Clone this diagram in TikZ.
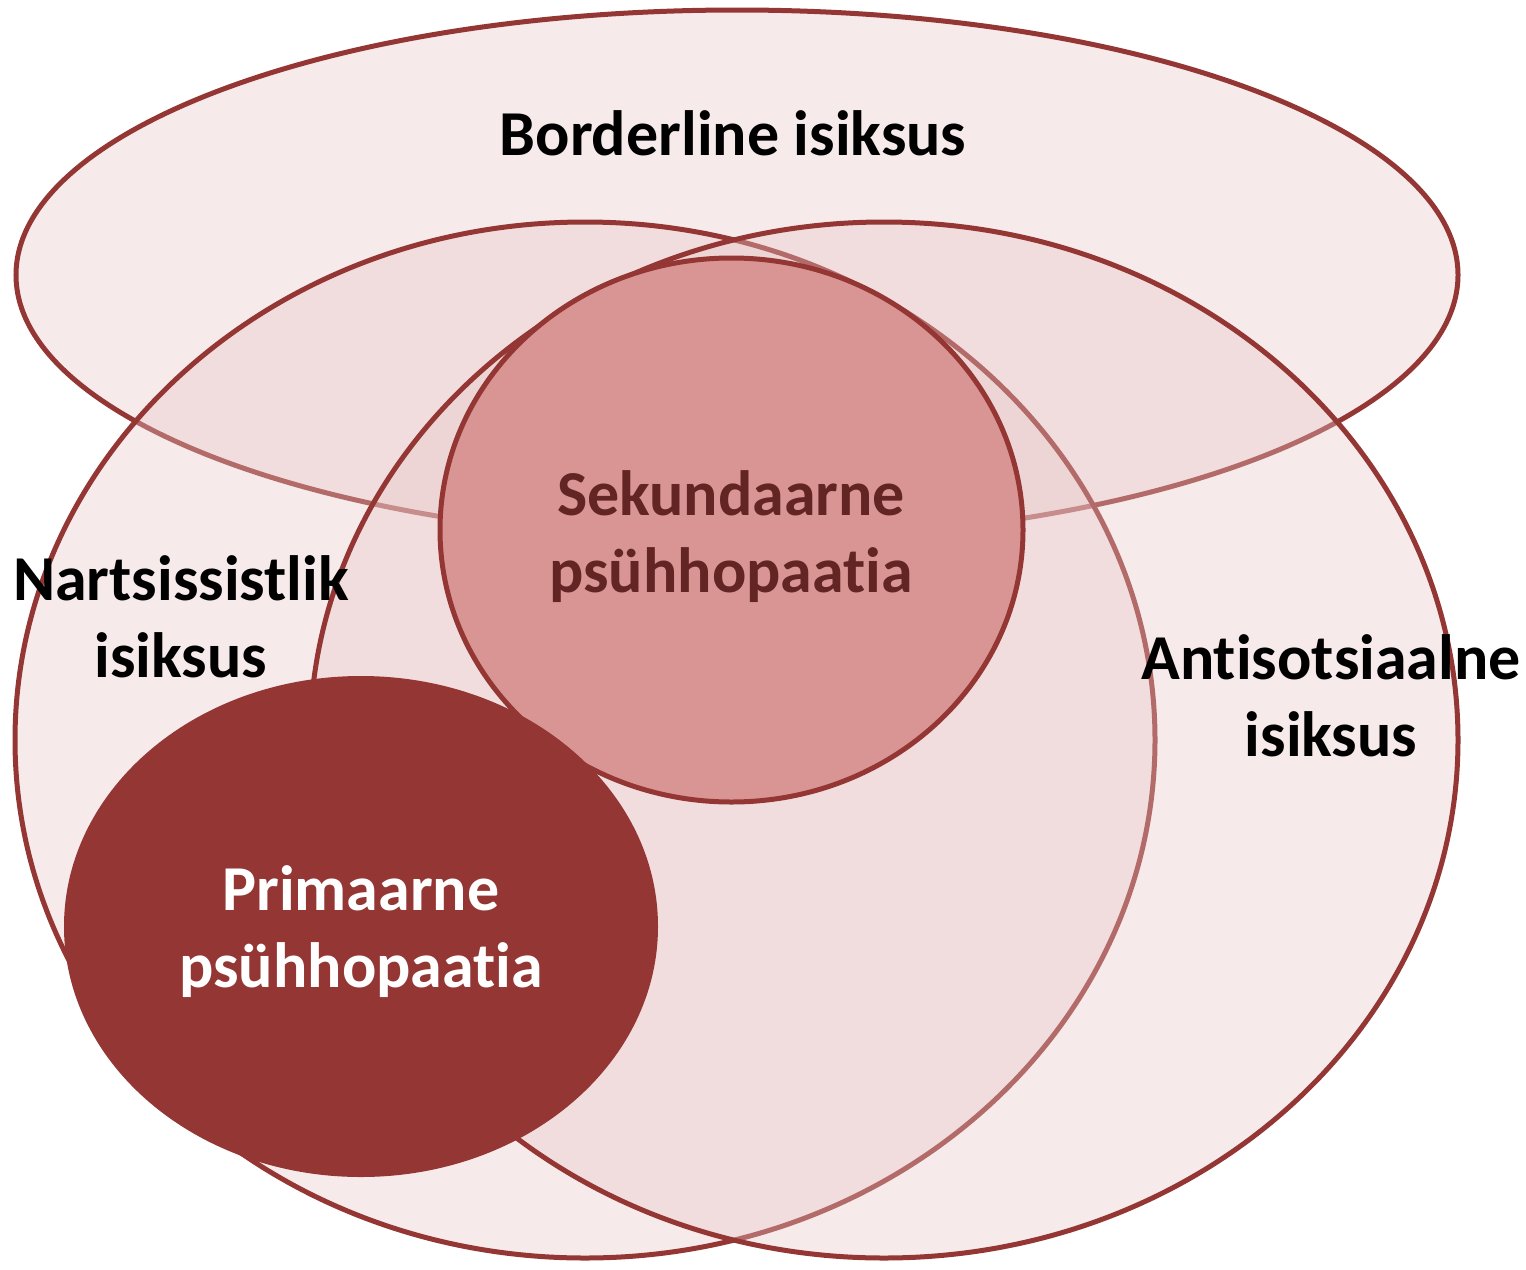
\documentclass[tikz,border=0pt]{standalone}
\usepackage{fontspec}
\setmainfont{Carlito}[Ligatures={NoCommon}]
\definecolor{darkred}{HTML}{943634}
\definecolor{lightfill}{RGB}{233,200,200}
\definecolor{midfill}{HTML}{D99594}
\definecolor{sektext}{HTML}{632523}
\begin{document}
\begin{tikzpicture}[x=1pt,y=-1pt,
  outline/.style={draw=darkred, line width=5pt},
  soft/.style={outline, fill=lightfill, fill opacity=0.37},
  lbl/.style={font=\fontsize{64}{77}\selectfont\bfseries, align=center, inner sep=0pt, anchor=base}]
\useasboundingbox (0,0) rectangle (1526,1269);
\fill[white] (0,0) rectangle (1526,1269);
% Borderline
\path[soft] (737,275) ellipse [x radius=721, y radius=265];
% Nartsissistlik
\path[soft] (585,740) ellipse [x radius=570, y radius=518];
% Antisotsiaalne
\path[soft] (884,740) ellipse [x radius=574, y radius=518];
% Sekundaarne
\path[outline, fill=midfill] (731.5,530) ellipse [x radius=291.5, y radius=272];
% Primaarne
\path[fill=darkred] (361,926.5) ellipse [x radius=297, y radius=250.5];
\node[lbl] (border) at (733,155) {Borderline isiksus};
\node[lbl] (narc) at (181,677) {Nartsissistlik\\isiksus};
\node[lbl] (anti) at (1331,756) {Antisotsiaalne\\isiksus};
\node[lbl, text=sektext] (sek) at (731,592) {Sekundaarne\\psühhopaatia};
\node[lbl, text=white] (prim) at (361,987) {Primaarne\\psühhopaatia};
\end{tikzpicture}
\end{document}
